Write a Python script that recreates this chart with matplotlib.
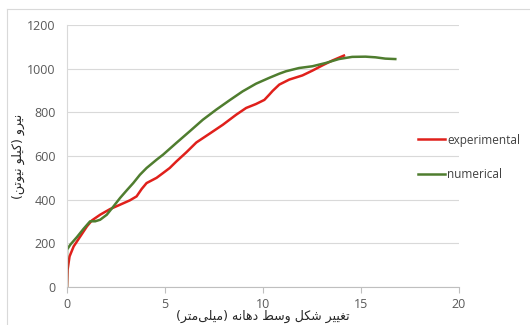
#!/usr/bin/env python3
"""Force vs. mid-span deflection: experimental against numerical curve."""

import matplotlib

matplotlib.use("Agg")
import matplotlib.pyplot as plt
from matplotlib.lines import Line2D

EXP_X = [0.0, 0.03, 0.13, 0.34, 0.68, 1.02, 1.27, 1.69, 2.2, 2.71, 3.21, 3.55,
         3.81, 4.06, 4.57, 4.9, 5.24, 5.58, 6.09, 6.6, 7.27, 7.95, 8.63, 9.14,
         9.64, 10.07, 10.32, 10.49, 10.83, 11.34, 12.01, 12.52, 13.03, 13.53, 14.13]
EXP_Y = [0, 79, 140, 186, 232, 278, 305, 331, 357, 377, 397, 415,
         449, 476, 500, 522, 545, 575, 617, 662, 702, 743, 789, 820,
         838, 857, 881, 898, 927, 950, 969, 991, 1015, 1037, 1060]

NUM_X = [0.0, 0.0, 0.17, 0.51, 0.84, 1.18, 1.44, 1.69, 2.03, 2.37, 2.71, 3.05,
         3.38, 3.72, 4.06, 4.57, 4.9, 5.58, 6.26, 6.93, 7.61, 8.29, 8.96, 9.64,
         10.32, 10.83, 11.17, 11.84, 12.52, 13.2, 13.87, 14.55, 15.23, 15.74,
         16.24, 16.75]
NUM_Y = [0, 171, 194, 229, 266, 301, 301, 308, 331, 369, 408, 443,
         476, 514, 545, 583, 606, 660, 713, 766, 812, 855, 896, 931,
         958, 977, 988, 1003, 1011, 1026, 1044, 1054, 1055, 1052,
         1046, 1044]

X_TICKS = [0, 5, 10, 15, 20]
Y_TICKS = [0, 200, 400, 600, 800, 1000, 1200]

X_LABEL = "تغییر شکل وسط دهانه (میلی\u200cمتر)"
Y_LABEL = "نیرو (کیلو نیوتن)"
SERIES = ["experimental", "numerical"]
RED = "#e0201b"
GREEN = "#4f7d2f"

# presentation forms: (isolated, final, initial, medial); two entries = right-joining only
FORMS = {
    "ا": ("\uFE8D", "\uFE8E"),
    "ت": ("\uFE95", "\uFE96", "\uFE97", "\uFE98"),
    "د": ("\uFEA9", "\uFEAA"),
    "ر": ("\uFEAD", "\uFEAE"),
    "س": ("\uFEB1", "\uFEB2", "\uFEB3", "\uFEB4"),
    "ش": ("\uFEB5", "\uFEB6", "\uFEB7", "\uFEB8"),
    "ط": ("\uFEC1", "\uFEC2", "\uFEC3", "\uFEC4"),
    "غ": ("\uFECD", "\uFECE", "\uFECF", "\uFED0"),
    "ل": ("\uFEDD", "\uFEDE", "\uFEDF", "\uFEE0"),
    "م": ("\uFEE1", "\uFEE2", "\uFEE3", "\uFEE4"),
    "ن": ("\uFEE5", "\uFEE6", "\uFEE7", "\uFEE8"),
    "ه": ("\uFEE9", "\uFEEA", "\uFEEB", "\uFEEC"),
    "و": ("\uFEED", "\uFEEE"),
    "ک": ("\uFB8E", "\uFB8F", "\uFB90", "\uFB91"),
    "ی": ("\uFBFC", "\uFBFD", "\uFBFE", "\uFBFF"),
}
MIRROR = {"(": ")", ")": "("}


def shape(text):
    """Poor man's arabic shaping + reversal, matplotlib draws LTR only."""
    out = []
    for i, ch in enumerate(text):
        if ch not in FORMS:
            if ch != "\u200c":
                out.append(MIRROR.get(ch, ch))
            continue
        prev = text[i - 1] if i > 0 else ""
        nxt = text[i + 1] if i + 1 < len(text) else ""
        join_prev = prev in FORMS and len(FORMS[prev]) == 4
        join_next = len(FORMS[ch]) == 4 and nxt in FORMS
        forms = FORMS[ch]
        if join_prev and join_next:
            out.append(forms[3])
        elif join_prev:
            out.append(forms[1])
        elif join_next:
            out.append(forms[2])
        else:
            out.append(forms[0])
    return "".join(reversed(out))


def main():
    plt.rcParams["font.family"] = ["Open Sans", "DejaVu Sans"]
    fig = plt.figure(figsize=(5.3, 3.25), dpi=100)
    ax = fig.add_axes([67 / 530, 38 / 325, 392 / 530, 262 / 325])

    lw = 1.8
    ax.plot(EXP_X, EXP_Y, color=RED, lw=lw, solid_joinstyle="round")
    ax.plot(NUM_X, NUM_Y, color=GREEN, lw=lw, solid_joinstyle="round")

    ax.set_xlim(0, 20)
    ax.set_ylim(0, 1200)
    ax.set_xticks(X_TICKS)
    ax.set_yticks(Y_TICKS)
    ax.grid(axis="y", color="#d9d9d9", lw=0.8)
    ax.set_axisbelow(True)
    ax.spines[["top", "right"]].set_visible(False)
    ax.spines["left"].set_color("#d9d9d9")
    ax.spines["bottom"].set_color("#bfbfbf")
    ax.tick_params(axis="y", length=0, pad=8, labelsize=9, labelcolor="#595959")
    ax.tick_params(axis="x", length=4, color="#bfbfbf", direction="out",
                   pad=4, labelsize=9, labelcolor="#595959")

    ax.set_xlabel(shape(X_LABEL), family="DejaVu Sans", fontsize=9,
                  color="#262626", labelpad=-1)
    ax.set_ylabel(shape(Y_LABEL), family="DejaVu Sans", fontsize=9,
                  color="#262626", labelpad=2)

    handles = [Line2D([], [], color=RED, lw=lw), Line2D([], [], color=GREEN, lw=lw)]
    fig.legend(handles, SERIES, loc="upper left", bbox_to_anchor=(407 / 530, 1 - 123 / 325),
               frameon=False, fontsize=8.5, handlelength=2.3, handletextpad=0.2,
               labelspacing=1.85, labelcolor="#404040")

    # thin frame the chart sits in
    fig.add_artist(Line2D([7 / 530, 1], [1 - 9 / 325] * 2, color="#d9d9d9", lw=0.8))
    fig.add_artist(Line2D([7 / 530] * 2, [0, 1 - 9 / 325], color="#d9d9d9", lw=0.8))

    fig.savefig("out.png", dpi=100)
    plt.close(fig)


if __name__ == "__main__":
    main()
